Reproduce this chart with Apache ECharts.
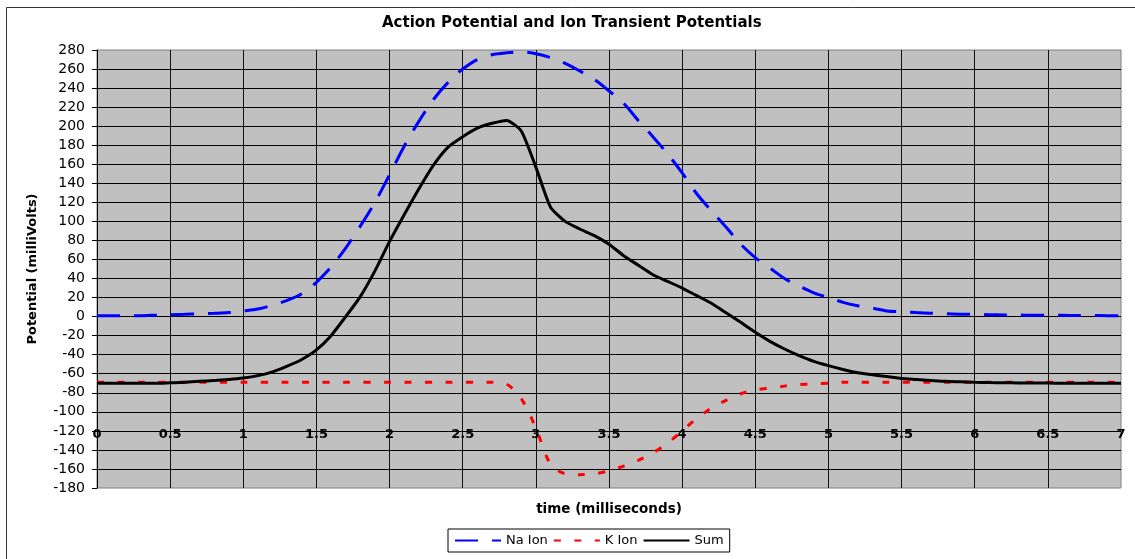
<!DOCTYPE html>
<html>
<head>
<meta charset="utf-8">
<script src="https://cdn.jsdelivr.net/npm/echarts@6/dist/echarts.min.js"></script>
<style>
html,body{margin:0;padding:0;background:#fff;}
#chart{width:1135px;height:559px;}
</style>
</head>
<body>
<div id="chart"></div>
<script>
var time = [0,0.1,0.2,0.3,0.4,0.5,0.6,0.7,0.8,0.9,1,1.1,1.2,1.3,1.4,1.5,1.6,1.7,1.8,1.9,2,2.1,2.2,2.3,2.4,2.5,2.6,2.7,2.8,2.9,3,3.1,3.2,3.3,3.4,3.5,3.6,3.7,3.8,3.9,4,4.1,4.2,4.3,4.4,4.5,4.6,4.7,4.8,4.9,5,5.1,5.2,5.3,5.4,5.5,5.6,5.7,5.8,5.9,6,6.1,6.2,6.3,6.4,6.5,6.6,6.7,6.8,6.9,7];
var naIon = [1,1,1,1,1.5,2,2.4,3,3.5,4.2,6,8,12,17,24,36,52,72,95,120,149,179,205,228,246,260,270,275,277,278,276,272,266,258,249,237,224,206,189,171,151,129,111,94,76,62,51,40,32,25,20,15,11.5,9,6,5,4.2,3.6,3,2.6,2.3,2,1.8,1.6,1.5,1.4,1.3,1.2,1.1,1,1];
var kIon = [-69,-69,-69,-69,-69,-69,-69,-69,-69,-69,-69,-69,-69,-69,-69,-69,-69,-69,-69,-69,-69,-69,-69,-69,-69,-69,-69,-69,-71,-86,-117,-155,-165,-166,-165,-162,-157,-151,-143,-133,-120,-107,-96,-88,-81,-77,-75,-73,-71.5,-70.5,-70,-69,-69,-69,-69,-69,-69,-69,-69,-69,-69,-69,-69,-69,-69,-69,-69,-69,-69,-69,-69];
var sum = [-70,-70,-70,-70,-70,-69.5,-69,-68,-67,-66,-64.5,-62,-58,-52,-45,-35,-20,0,21,48,79,107,134,159,178,189,198,203,206,195,157,115,100,92,85,76,64,54,44,37,30,22,14,4,-6,-16.5,-26,-34,-41,-47,-51.5,-55.5,-59,-61,-63,-65,-66,-67,-68,-68.5,-69,-69.3,-69.5,-69.6,-69.7,-69.8,-70,-70,-70,-70,-70];
var yTicks = {min: -180, max: 280, step: 20};
var xTicks = {min: 0, max: 7, step: 0.5};

function pairs(ys){ return time.map(function(t,i){ return [t, ys[i]]; }); }

var FONT = '"DejaVu Sans", Verdana, sans-serif';
var chart = echarts.init(document.getElementById('chart'), null, {renderer:'canvas'});
chart.setOption({
  animation: false,
  backgroundColor: '#fff',
  textStyle: {fontFamily: FONT, color: '#000'},
  graphic: [{
    type: 'rect', silent: true, z: -10,
    shape: {x: 6.5, y: 7.5, width: 1200, height: 700},
    style: {fill: 'none', stroke: '#333', lineWidth: 1}
  }],
  title: {
    text: 'Action Potential and Ion Transient Potentials',
    left: 382, top: 16, padding: 0,
    textStyle: {fontFamily: FONT, fontSize: 15, fontWeight: 'bold', color: '#000'}
  },
  legend: {
    data: ['Na Ion', 'K Ion', 'Sum'],
    left: 448, top: 529,
    padding: [5, 6, 5, 6],
    itemGap: 5, itemWidth: 46, itemHeight: 16,
    itemStyle: {opacity: 0},
    backgroundColor: '#fff', borderColor: '#000', borderWidth: 1, borderRadius: 0,
    textStyle: {fontFamily: FONT, fontSize: 13, color: '#000'}
  },
  grid: {
    left: 97, right: 14, top: 50, bottom: 71,
    show: true, backgroundColor: '#c0c0c0', borderColor: '#808080', borderWidth: 1,
    containLabel: false
  },
  xAxis: {
    type: 'value', min: xTicks.min, max: xTicks.max, interval: xTicks.step,
    name: 'time (milliseconds)', nameLocation: 'middle', nameGap: 14,
    nameTextStyle: {fontFamily: FONT, fontSize: 13.5, fontWeight: 'bold', color: '#000'},
    axisLine: {show: false}, axisTick: {show: false},
    axisLabel: {margin: -60, fontFamily: FONT, fontSize: 13, fontWeight: 'bold', color: '#000', showMinLabel: true, showMaxLabel: true},
    splitLine: {show: true, showMinLine: false, showMaxLine: false, lineStyle: {color: '#111', width: 1}}
  },
  yAxis: {
    type: 'value', min: yTicks.min, max: yTicks.max, interval: yTicks.step,
    name: 'Potential (milliVolts)', nameLocation: 'middle', nameGap: 58, nameRotate: 90,
    nameTextStyle: {fontFamily: FONT, fontSize: 13, fontWeight: 'bold', color: '#000'},
    axisLine: {show: true, lineStyle: {color: '#000', width: 1}},
    axisTick: {show: true, length: 5, lineStyle: {color: '#000'}},
    axisLabel: {margin: 12, fontFamily: FONT, fontSize: 14, color: '#000'},
    splitLine: {show: true, showMinLine: false, showMaxLine: false, lineStyle: {color: '#000', width: 1}}
  },
  series: [
    {name: 'Na Ion', type: 'line', data: pairs(naIon), showSymbol: false, symbol: 'none', smooth: 0.3,
     lineStyle: {color: '#0000ff', width: 3, type: [23, 14]}, itemStyle: {color: '#0000ff'}, z: 3},
    {name: 'K Ion', type: 'line', data: pairs(kIon), showSymbol: false, symbol: 'none', smooth: 0.3,
     lineStyle: {color: '#ff0000', width: 3, type: [7, 13.5]}, itemStyle: {color: '#ff0000'}, z: 3},
    {name: 'Sum', type: 'line', data: pairs(sum), showSymbol: false, symbol: 'none', smooth: 0.2,
     lineStyle: {color: '#000', width: 3, type: 'solid'}, itemStyle: {color: '#000'}, z: 4}
  ]
});
</script>
</body>
</html>
